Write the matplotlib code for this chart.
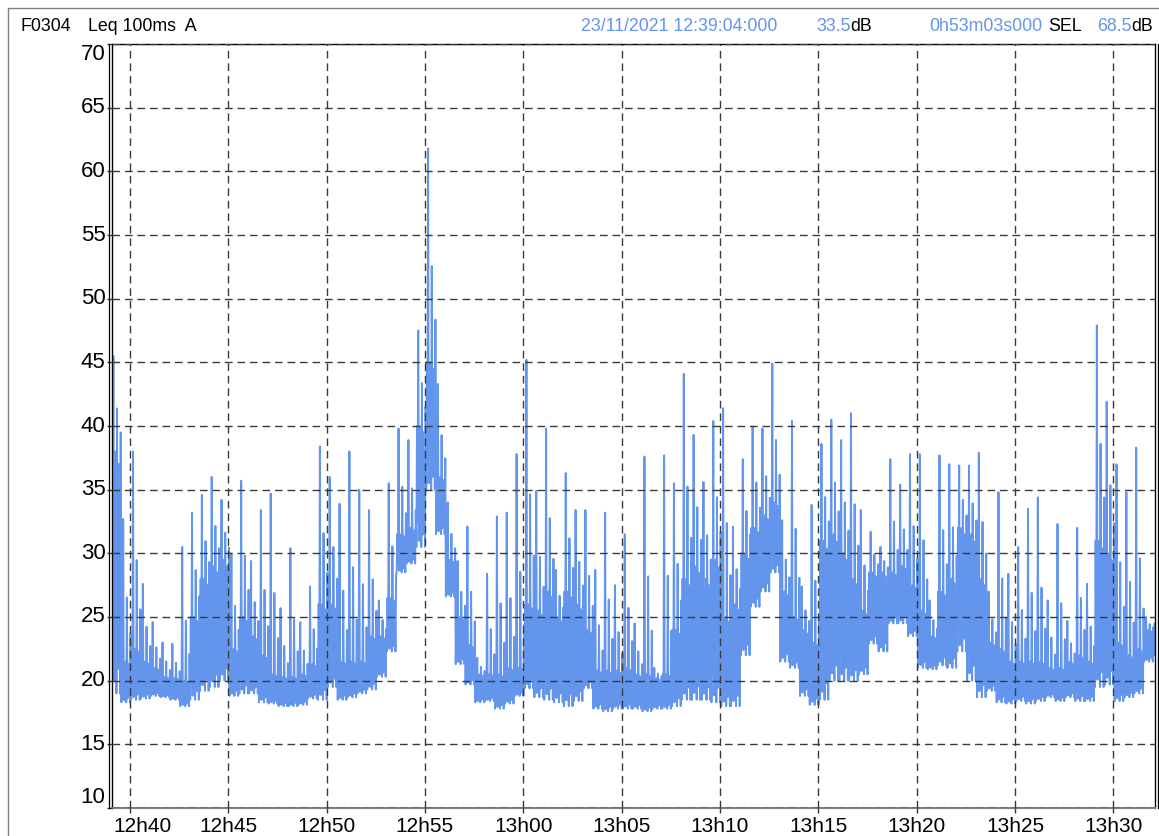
import numpy as np
import matplotlib.pyplot as plt
from matplotlib.lines import Line2D

plt.rcParams['font.family'] = ['Liberation Sans', 'DejaVu Sans']

# Leq 100ms A in 30 s bins from 12:39:04
bin_sec = 30
duration = 53 * 60 + 3  # 0h53m03s

# bottom of the trace in each bin (dB)
lo = [19.0, 18.3, 18.5, 18.6, 18.8, 18.7, 18.5, 18.0, 18.5, 19.2,
      19.5, 20.0, 18.8, 19.0, 19.0, 18.3, 18.2, 18.0, 18.0, 18.1,
      18.6, 18.5, 19.5, 18.5, 18.7, 19.0, 19.3, 20.3, 22.3, 28.5,
      29.2, 30.5, 35.0, 31.5, 26.6, 21.3, 19.7, 18.3, 18.4, 17.8,
      18.2, 18.8, 19.4, 18.7, 18.5, 18.3, 18.0, 18.4, 19.4, 17.8,
      17.6, 17.8, 17.8, 17.8, 17.6, 17.8, 17.8, 18.0, 18.5, 18.5,
      18.5, 18.3, 18.0, 18.0, 22.0, 25.8, 27.0, 28.5, 21.5, 21.0,
      18.8, 18.1, 18.5, 20.0, 20.0, 20.0, 20.5, 22.9, 22.3, 24.5,
      24.5, 23.5, 21.0, 20.9, 21.2, 21.0, 22.3, 20.0, 18.7, 19.2,
      18.3, 18.2, 18.4, 18.2, 18.4, 18.7, 18.4, 18.7, 18.4, 18.4,
      19.5, 19.7, 18.4, 18.7, 19.0, 21.5, 22.0]

# top of the dense part in each bin (dB)
mid = [38.0, 21.5, 22.5, 21.5, 21.0, 20.3, 20.2, 20.0, 25.0, 28.0,
       29.0, 29.5, 22.5, 25.0, 23.5, 22.0, 20.5, 20.3, 20.3, 20.5,
       21.3, 26.0, 26.0, 21.5, 21.5, 21.5, 23.5, 23.5, 26.5, 31.5,
       32.0, 40.0, 45.0, 36.0, 29.5, 25.0, 22.8, 20.5, 20.5, 20.5,
       21.0, 21.0, 26.0, 25.5, 27.0, 25.0, 27.0, 26.0, 24.0, 20.8,
       20.8, 20.8, 21.0, 20.5, 20.5, 20.2, 20.5, 24.0, 28.0, 29.0,
       28.0, 29.5, 25.0, 26.0, 30.0, 32.0, 33.0, 34.0, 27.0, 25.0,
       24.0, 23.0, 31.0, 31.5, 30.0, 28.0, 25.5, 28.5, 28.5, 28.5,
       29.0, 27.5, 25.5, 23.5, 27.0, 28.0, 32.0, 31.5, 28.0, 23.0,
       22.5, 21.5, 21.5, 21.5, 21.5, 21.0, 21.0, 21.5, 22.0, 21.5,
       31.0, 30.0, 23.0, 22.0, 22.5, 24.0, 24.5]

# highest spike in each bin (dB)
hi = [45.5, 32.7, 38.0, 27.6, 24.6, 23.0, 22.9, 30.5, 33.2, 34.6,
      36.0, 34.2, 30.0, 35.7, 29.4, 33.4, 34.7, 25.7, 30.4, 24.6,
      27.4, 38.4, 36.0, 33.9, 38.0, 35.0, 33.4, 26.3, 35.5, 39.8,
      38.9, 47.5, 61.8, 43.3, 34.0, 29.4, 32.1, 21.8, 28.4, 32.9,
      33.2, 37.8, 45.2, 34.9, 39.8, 28.7, 36.3, 33.4, 33.4, 28.7,
      33.2, 27.5, 31.5, 24.5, 37.6, 21.0, 37.7, 35.5, 44.1, 39.3,
      35.6, 40.4, 41.4, 32.1, 37.4, 39.9, 39.8, 44.9, 32.6, 40.4,
      27.4, 33.8, 38.6, 40.5, 38.9, 41.0, 33.4, 31.7, 30.5, 37.4,
      35.4, 37.8, 37.8, 26.3, 37.7, 37.0, 36.9, 36.9, 37.9, 27.0,
      34.8, 28.4, 30.5, 33.5, 34.4, 26.3, 32.3, 24.7, 32.0, 27.6,
      47.9, 41.9, 37.0, 34.8, 38.3, 25.0, 27.0]

x_labels = ['12h40', '12h45', '12h50', '12h55', '13h00', '13h05',
            '13h10', '13h15', '13h20', '13h25', '13h30']
y_ticks = list(range(10, 71, 5))

# draw each bin as a dense zigzag: floor -> dense top, plus spikes toward hi
lo_a, mid_a, hi_a = np.array(lo), np.array(mid), np.array(hi)
# w <= 1: share of floor..dense top; w > 1: 1 + share of dense top..spike
w = np.array([0.0, 1.0, 0.2, 2.0, 0.05, 0.9, 0.35, 1.0,
              0.0, 1.45, 0.1, 0.95, 0.3, 0.8, 0.0, 1.2])
sub = len(w)
low_part = lo_a[:, None] + np.minimum(w, 1)[None, :] * (mid_a - lo_a)[:, None]
up_part = mid_a[:, None] + (np.maximum(w, 1) - 1)[None, :] * (hi_a - mid_a)[:, None]
y = np.where(w[None, :] > 1, up_part, low_part)
x = (np.arange(len(lo))[:, None] * bin_sec
     + np.arange(sub)[None, :] * bin_sec / sub)

W, H = 1159, 836
fig = plt.figure(figsize=(W / 100, H / 100), dpi=100)
ax = fig.add_axes([111.5 / W, 1 - 808 / H, (1155 - 111.5) / W, (808 - 44) / H])

blue = '#6495ED'
ax.plot(x.ravel(), y.ravel(), color=blue, lw=1.4)

ax.set_xlim(0, duration)
ax.set_ylim(10, 70)
x_ticks = [56 + 300 * k for k in range(len(x_labels))]  # 12:40:00 is 56 s in
ax.set_xticks(x_ticks)
ax.set_yticks(y_ticks)
ax.set_xticklabels([])
ax.set_yticklabels([])
ax.tick_params(direction='out', length=3.6, width=1, color='#333333')
ax.grid(True, color='#3a3a3a', lw=1.0, linestyle=(0, (5.5, 3.5)))
ax.set_axisbelow(False)

for s in ['left', 'top', 'right']:
    ax.spines[s].set_color('black')
    ax.spines[s].set_linewidth(1.0)
ax.spines['bottom'].set_color('#808080')
ax.spines['bottom'].set_linewidth(1.5)

# tick labels
for v in y_ticks:
    va = 'top' if v == 70 else ('bottom' if v == 10 else 'center')
    ax.text(-6 / 1043.5, v, str(v), transform=ax.get_yaxis_transform(),
            ha='right', va=va, fontsize=16)
for i, (t, lab) in enumerate(zip(x_ticks, x_labels)):
    if i == 0:
        ax.text(2 / 1043.5, -9 / 764, lab, transform=ax.transAxes,
                ha='left', va='top', fontsize=15)
    else:
        ax.text(t, -9 / 764, lab, transform=ax.get_xaxis_transform(),
                ha='center', va='top', fontsize=15)

# double lines on left and right edges, outer frame
for px in (109.2, 1157.7):
    fig.add_artist(Line2D([px / W, px / W], [1 - 808 / H, 1 - 44 / H],
                          transform=fig.transFigure, color='black', lw=0.9))
fig.add_artist(Line2D([8 / W, 8 / W, 1.0], [0.0, 1 - 8 / H, 1 - 8 / H],
                      transform=fig.transFigure, color='#808080', lw=1.0))

# header line; "dB" units follow their value directly
header = [(20, 'F0304', 'black', None), (88, 'Leq 100ms  A', 'black', None),
          (581, '23/11/2021 12:39:04:000', blue, None), (816, '33.5', blue, 'dB'),
          (929, '0h53m03s000', blue, None), (1048, 'SEL', 'black', None),
          (1097, '68.5', blue, 'dB')]
for px, s, c, unit in header:
    t = fig.text(px / W, 1 - 31 / H, s, color=c, fontsize=12.8, va='baseline')
    if unit:
        ax.annotate(unit, xy=(1, 0), xycoords=t, color='black',
                    fontsize=12.8, va='bottom', ha='left',
                    annotation_clip=False)

fig.savefig('out.png', dpi=100)
